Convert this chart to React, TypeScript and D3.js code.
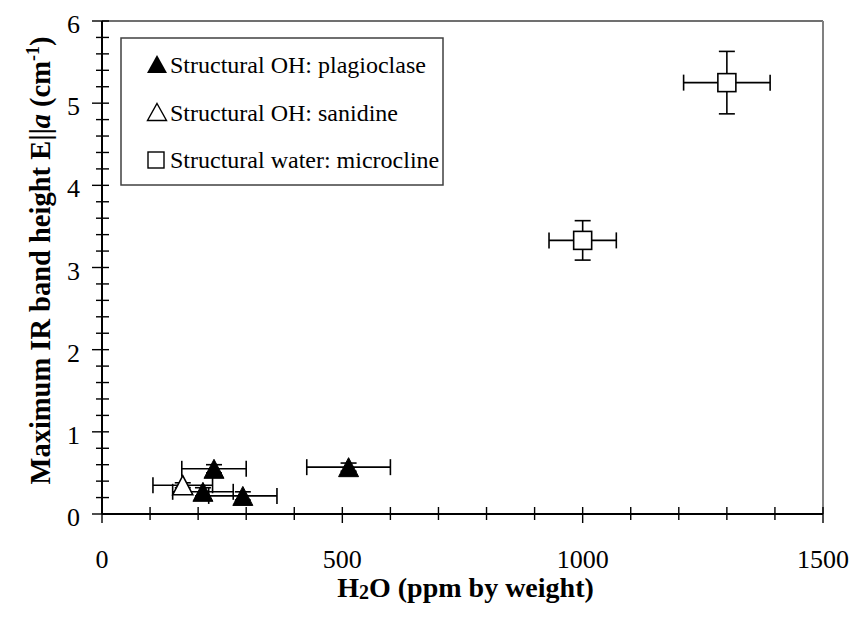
import React from "react";
import * as d3 from "d3";

// ---- Data ----
const plagX = [210, 233, 293, 513];
const plagY = [0.27, 0.55, 0.22, 0.57];
const plagXErr = [63, 67, 71, 87];
const plagYErr = [0.05, 0.05, 0.05, 0.05];

const saniX = [168];
const saniY = [0.35];
const saniXErr = [62];
const saniYErr = [0.03];

const microX = [1000, 1300];
const microY = [3.33, 5.25];
const microXErr = [70, 90];
const microYErr = [0.24, 0.38];

const xTicks = [0, 500, 1000, 1500];
const yTicks = [0, 1, 2, 3, 4, 5, 6];
const legendLabels = [
  "Structural OH: plagioclase",
  "Structural OH: sanidine",
  "Structural water: microcline",
];

const W = 856;
const H = 625;
const M = { left: 102, right: 823, top: 21, bottom: 514 };
const FONT = "'Liberation Serif', 'Times New Roman', serif";

type Pt = { x: number; y: number; ex: number; ey: number };
const zip = (xs: number[], ys: number[], exs: number[], eys: number[]): Pt[] =>
  xs.map((x, i) => ({ x, y: ys[i], ex: exs[i], ey: eys[i] }));

const plag = zip(plagX, plagY, plagXErr, plagYErr);
const sani = zip(saniX, saniY, saniXErr, saniYErr);
const micro = zip(microX, microY, microXErr, microYErr);

const triPath = (cx: number, cy: number, w = 20, h = 19) =>
  `M${cx},${cy - h / 2}L${cx + w / 2},${cy + h / 2}L${cx - w / 2},${cy + h / 2}Z`;

export default function App() {
  const x = d3.scaleLinear().domain([0, 1500]).range([M.left, M.right]);
  const y = d3.scaleLinear().domain([0, 6]).range([M.bottom, M.top]);

  const xMinor = d3.range(0, 1501, 100);
  const yMinor = d3.range(0, 6.001, 0.2);

  const errBars = (pts: Pt[], key: string) =>
    pts.map((p, i) => {
      const cx = x(p.x), cy = y(p.y);
      const x0 = x(p.x - p.ex), x1 = x(p.x + p.ex);
      const y0 = y(p.y - p.ey), y1 = y(p.y + p.ey);
      return (
        <g key={key + i} stroke="#000" strokeWidth={1.6} fill="none">
          <line x1={x0} x2={x1} y1={cy} y2={cy} />
          <line x1={x0} x2={x0} y1={cy - 8} y2={cy + 8} />
          <line x1={x1} x2={x1} y1={cy - 8} y2={cy + 8} />
          <line x1={cx} x2={cx} y1={y0} y2={y1} />
          <line x1={cx - 8} x2={cx + 8} y1={y0} y2={y0} />
          <line x1={cx - 8} x2={cx + 8} y1={y1} y2={y1} />
        </g>
      );
    });

  return (
    <svg
      width={W}
      height={H}
      style={{ position: "absolute", left: 0, top: 0, background: "#fff" }}
      fontFamily={FONT}
    >
      <rect width={W} height={H} fill="#fff" />
      {/* plot frame top/right */}
      <line x1={M.left} x2={M.right} y1={M.top} y2={M.top} stroke="#707070" strokeWidth={2} />
      <line x1={M.right} x2={M.right} y1={M.top} y2={M.bottom} stroke="#808080" strokeWidth={2} />

      {/* y axis */}
      <line x1={M.left} x2={M.left} y1={M.top} y2={M.bottom} stroke="#000" strokeWidth={2} />
      {yMinor.map((v, i) => {
        const major = Math.abs(v - Math.round(v)) < 1e-6;
        return (
          <line
            key={"ym" + i}
            x1={M.left - (major ? 10 : 6)}
            x2={M.left + 7}
            y1={y(v)}
            y2={y(v)}
            stroke="#000"
            strokeWidth={1.4}
          />
        );
      })}
      {yTicks.map((v) => (
        <text key={"yt" + v} x={80} y={y(v) + 12} fontSize={26} textAnchor="end" fill="#000">
          {v}
        </text>
      ))}

      {/* x axis */}
      <line x1={M.left} x2={M.right} y1={M.bottom} y2={M.bottom} stroke="#000" strokeWidth={2} />
      {xMinor.map((v, i) => {
        const major = v % 500 === 0;
        return (
          <line
            key={"xm" + i}
            x1={x(v)}
            x2={x(v)}
            y1={M.bottom - 7}
            y2={M.bottom + (major ? 9 : 6)}
            stroke="#000"
            strokeWidth={1.4}
          />
        );
      })}
      {xTicks.map((v) => (
        <text key={"xt" + v} x={x(v)} y={568} fontSize={26} textAnchor="middle" fill="#000">
          {v}
        </text>
      ))}

      {/* axis titles */}
      <text x={(M.left + M.right) / 2 + 3} y={597} fontSize={28} fontWeight="bold" textAnchor="middle">
        H<tspan fontSize={20} dy={2}>2</tspan>
        <tspan dy={-2}>O (ppm by weight)</tspan>
      </text>
      <text
        transform={`translate(50,${(M.top + M.bottom) / 2 - 7}) rotate(-90)`}
        fontSize={28.5}
        fontWeight="bold"
        textAnchor="middle"
      >
        Maximum IR band height E||<tspan fontStyle="italic">a</tspan>
        <tspan>{"  (cm"}</tspan>
        <tspan fontSize={18} dy={-11}>-1</tspan>
        <tspan dy={11}>)</tspan>
      </text>

      {/* error bars */}
      {errBars(sani, "s")}
      {errBars(plag, "p")}
      {errBars(micro, "m")}

      {/* markers */}
      {sani.map((p, i) => (
        <path key={"sm" + i} d={triPath(x(p.x), y(p.y))} fill="#fff" stroke="#000" strokeWidth={1.6} />
      ))}
      {plag.map((p, i) => (
        <path key={"pm" + i} d={triPath(x(p.x), y(p.y))} fill="#000" stroke="#000" strokeWidth={1} />
      ))}
      {micro.map((p, i) => (
        <rect
          key={"mm" + i}
          x={x(p.x) - 9}
          y={y(p.y) - 9}
          width={18}
          height={18}
          fill="#fff"
          stroke="#000"
          strokeWidth={1.6}
        />
      ))}

      {/* legend */}
      <rect x={121} y={38} width={322} height={147} fill="#fff" stroke="#404040" strokeWidth={1.5} />
      <path d={triPath(157, 64, 20, 18)} fill="#000" />
      <path d={triPath(157, 112, 19, 17)} fill="#fff" stroke="#000" strokeWidth={1.4} />
      <rect x={148} y={152} width={16} height={16} fill="#fff" stroke="#000" strokeWidth={1.4} />
      {legendLabels.map((t, i) => (
        <text key={"lg" + i} x={170} y={73 + i * 47.5} fontSize={24} fill="#000">
          {t}
        </text>
      ))}
    </svg>
  );
}
